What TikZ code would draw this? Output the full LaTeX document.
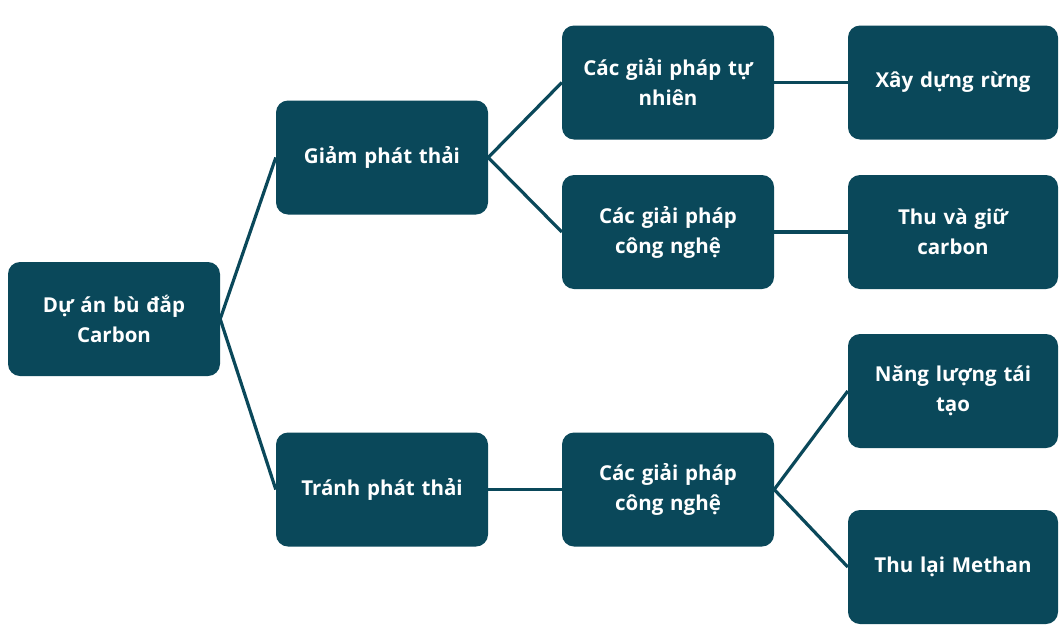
\documentclass[tikz,border=0pt]{standalone}
\usepackage{fontspec}
\setmainfont{Open Sans}
\definecolor{teal1}{RGB}{10,72,90}
\begin{document}
\begin{tikzpicture}[x=1pt,y=-1pt,
  box/.style={fill=teal1, rounded corners=12pt, text=white, font=\bfseries\fontsize{20.5}{30}\selectfont,
    align=center, minimum width=212pt, minimum height=114pt, inner sep=0pt, text width=196pt},
  link/.style={draw=teal1, line width=3.2pt}]
\useasboundingbox (0,0) rectangle (1060,624);
\fill[white] (0,0) rectangle (1060,624);
\node[box] (root) at (114,319) {Dự án bù đắp\\Carbon};
\node[box] (giam) at (382,157.5) {Giảm phát thải};
\node[box] (tranh) at (382,489.5) {Tránh phát thải};
\node[box] (tn) at (668,82.5) {Các giải pháp tự\\nhiên};
\node[box] (cn1) at (668,232) {Các giải pháp\\công nghệ};
\node[box] (cn2) at (668,489.5) {Các giải pháp\\công nghệ};
\node[box, minimum width=210pt] (xd) at (953,82.5) {Xây dựng rừng};
\node[box, minimum width=210pt] (tg) at (953,232) {Thu và giữ\\carbon};
\node[box, minimum width=210pt] (nl) at (953,391) {Năng lượng tái\\tạo};
\node[box, minimum width=210pt] (me) at (953,567) {Thu lại Methan};
\draw[link] (giam.west) -- (root.east) -- (tranh.west);
\draw[link] (tn.west) -- (giam.east) -- (cn1.west);
\draw[link] (tranh.east) -- (cn2.west);
\draw[link] (tn.east) -- (xd.west);
\draw[link] (cn1.east) -- (tg.west);
\draw[link] (nl.west) -- (cn2.east) -- (me.west);
\end{tikzpicture}
\end{document}
